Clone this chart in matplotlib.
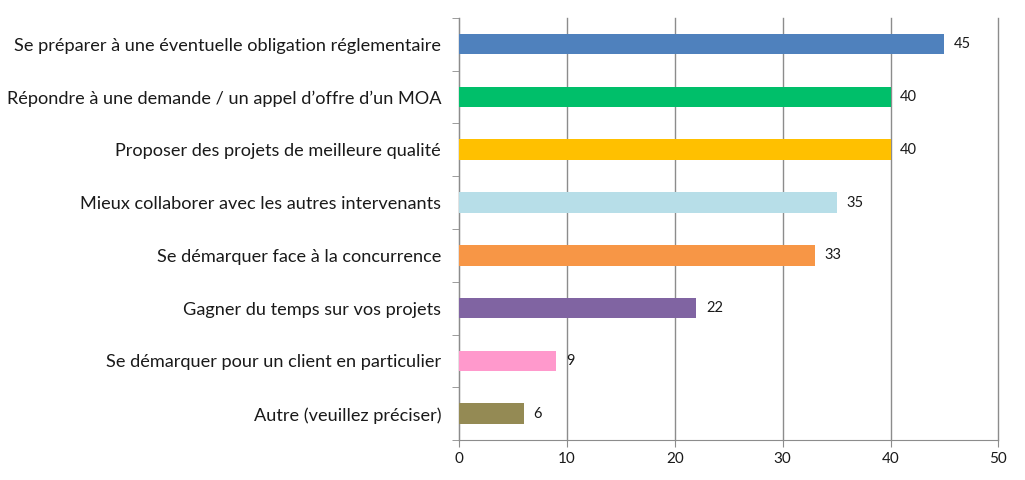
import matplotlib
matplotlib.use('Agg')
import matplotlib.pyplot as plt

# data
categories = ['Se préparer à une éventuelle obligation réglementaire',
              'Répondre à une demande / un appel d\u2019offre d\u2019un MOA',
              'Proposer des projets de meilleure qualité',
              'Mieux collaborer avec les autres intervenants',
              'Se démarquer face à la concurrence',
              'Gagner du temps sur vos projets',
              'Se démarquer pour un client en particulier',
              'Autre (veuillez préciser)']
values = [45, 40, 40, 35, 33, 22, 9, 6]
colors = ['#4F81BD', '#00BF6A', '#FFC000', '#B7DEE8',
          '#F79646', '#8064A2', '#FF99CC', '#948A54']
xticks = [0, 10, 20, 30, 40, 50]

plt.rcParams['font.family'] = ['Lato', 'DejaVu Sans']

fig = plt.figure(figsize=(10.25, 4.8), dpi=100)
ax = fig.add_axes([0.448, 0.083, 0.526, 0.88])

n = len(categories)
ypos = list(range(n - 1, -1, -1))
ax.barh(ypos, values, height=0.39, color=colors, zorder=3)

for y, v in zip(ypos, values):
    ax.text(v + 0.9, y, str(v), va='center', ha='left', fontsize=10.5, color='#1a1a1a')

ax.set_xlim(0, 50)
ax.set_ylim(-0.5, n - 0.5)
ax.set_xticks(xticks)
ax.set_xticklabels([str(t) for t in xticks], fontsize=11)
ax.set_yticks(ypos)
ax.set_yticklabels(categories, fontsize=13.1)
ax.set_yticks([i + 0.5 for i in range(-1, n)], minor=True)

ax.grid(axis='x', color='#8c8c8c', linewidth=1, zorder=0)
for gl in ax.get_xgridlines():
    gl.set_clip_on(False)
for s in ['top', 'right']:
    ax.spines[s].set_visible(False)
for s in ['left', 'bottom']:
    ax.spines[s].set_color('#8c8c8c')

ax.tick_params(axis='y', which='major', length=0, pad=13, colors='#1a1a1a')
ax.tick_params(axis='y', which='minor', length=5, color='#8c8c8c')
ax.tick_params(axis='x', length=5, color='#8c8c8c', colors='#1a1a1a')

fig.savefig('out.png', dpi=100)
